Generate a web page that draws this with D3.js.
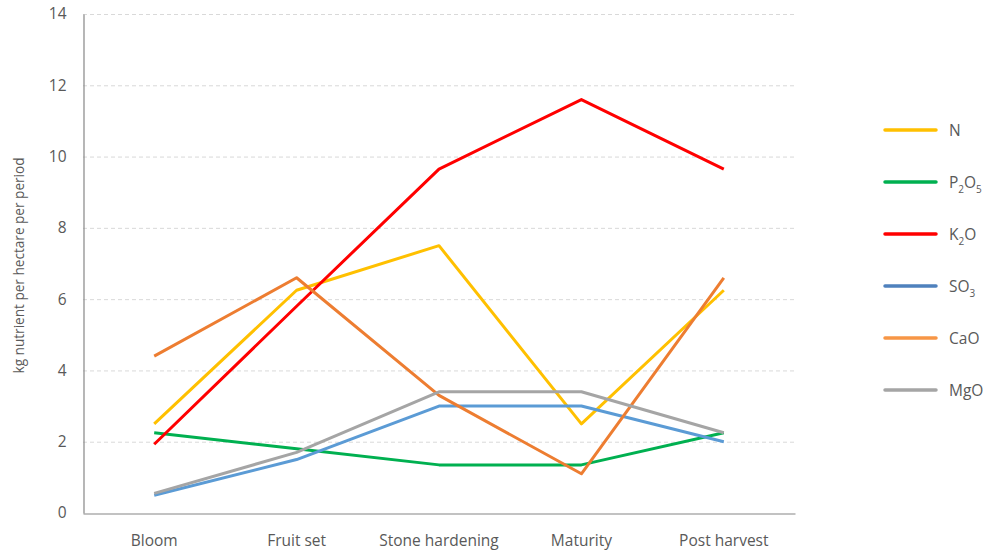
<!DOCTYPE html>
<html>
<head>
<meta charset="utf-8">
<script src="https://cdn.jsdelivr.net/npm/d3@7"></script>
<style>
  html, body { margin: 0; padding: 0; background: #fff; }
  svg { display: block; font-family: "Open Sans", "Liberation Sans", sans-serif; }
</style>
</head>
<body>
<svg id="chart" width="989" height="555"></svg>
<script>
// Growth stages along the season
const periods = ["Bloom", "Fruit set", "Stone hardening", "Maturity", "Post harvest"];

// kg nutrient per hectare per period
const nValues    = [2.5, 6.25, 7.5, 2.5, 6.25];
const p2o5Values = [2.25, 1.8, 1.35, 1.35, 2.25];
const k2oValues  = [1.93, 5.8, 9.65, 11.6, 9.65];
const so3Values  = [0.5, 1.5, 3.0, 3.0, 2.0];
const caoValues  = [4.4, 6.6, 3.3, 1.1, 6.6];
const mgoValues  = [0.55, 1.7, 3.4, 3.4, 2.25];

const yTicks = [0, 2, 4, 6, 8, 10, 12, 14];

// Legend labels as [text, subscript] pieces
const series = [
  { name: [["N", false]], values: nValues, color: "#FFC000", key: "#FFC000" },
  { name: [["P", false], ["2", true], ["O", false], ["5", true]], values: p2o5Values, color: "#00B050", key: "#00B050" },
  { name: [["K", false], ["2", true], ["O", false]], values: k2oValues, color: "#FF0000", key: "#FF0000" },
  { name: [["SO", false], ["3", true]], values: so3Values, color: "#5B9BD5", key: "#4F81BD" },
  { name: [["CaO", false]], values: caoValues, color: "#ED7D31", key: "#F79646" },
  { name: [["MgO", false]], values: mgoValues, color: "#A5A5A5", key: "#A5A5A5" }
];

const textColor = "#595959";
const labelSize = 15.5;

const svg = d3.select("#chart");
const plot = { left: 83, right: 795, top: 14, bottom: 513 };

const x = d3.scaleBand().domain(periods).range([plot.left, plot.right]);
const y = d3.scaleLinear().domain([0, 14]).range([plot.bottom, plot.top]);

// Horizontal dashed gridlines
svg.append("g")
  .selectAll("line")
  .data(yTicks.filter(t => t > 0))
  .join("line")
  .attr("x1", plot.left).attr("x2", plot.right)
  .attr("y1", d => y(d) + 0.5).attr("y2", d => y(d) + 0.5)
  .attr("stroke", "#d9d9d9")
  .attr("stroke-width", 1)
  .attr("stroke-dasharray", "4,3");

// Y axis
const yAxis = svg.append("g")
  .attr("transform", `translate(${plot.left + 0.5},0)`)
  .call(d3.axisLeft(y).tickValues(yTicks).tickSize(0).tickPadding(17));
yAxis.select(".domain").attr("stroke", "#868686").attr("stroke-width", 1.2);
yAxis.selectAll("text").attr("font-size", labelSize).attr("fill", textColor)
  .attr("font-family", "'Open Sans', sans-serif");

// X axis
const xAxis = svg.append("g")
  .attr("transform", `translate(0,${plot.bottom + 0.5})`)
  .call(d3.axisBottom(x).tickSize(0).tickPadding(21));
xAxis.select(".domain").attr("stroke", "#868686").attr("stroke-width", 1.2);
xAxis.selectAll("text").attr("font-size", labelSize).attr("fill", textColor)
  .attr("font-family", "'Open Sans', sans-serif");

// Y axis title
svg.append("text")
  .attr("transform", `translate(24,${(plot.top + plot.bottom) / 2 + 2}) rotate(-90)`)
  .attr("text-anchor", "middle")
  .attr("font-size", 13.6)
  .attr("fill", textColor)
  .text("kg nutrient per hectare per period");

// Series lines
const line = d3.line()
  .x((d, i) => x(periods[i]) + x.bandwidth() / 2)
  .y(d => y(d));

svg.append("g")
  .selectAll("path")
  .data(series)
  .join("path")
  .attr("d", d => line(d.values))
  .attr("fill", "none")
  .attr("stroke", d => d.color)
  .attr("stroke-width", 3)
  .attr("stroke-linejoin", "round");

// Legend
const legend = svg.append("g");
const legendRow = legend.selectAll("g")
  .data(series)
  .join("g")
  .attr("transform", (d, i) => `translate(885,${130 + i * 52})`);

legendRow.append("line")
  .attr("x1", 0).attr("x2", 51)
  .attr("stroke", d => d.key)
  .attr("stroke-width", 3.5)
  .attr("stroke-linecap", "round");

const legendText = legendRow.append("text")
  .attr("x", 64)
  .attr("y", 6)
  .attr("font-size", labelSize)
  .attr("fill", textColor);

legendText.each(function(d) {
  const t = d3.select(this);
  d.name.forEach(([s, sub], i) => {
    t.append("tspan")
      .attr("font-size", sub ? 10 : labelSize)
      .attr("dy", sub ? 5 : (i > 0 ? -5 : 0))
      .text(s);
  });
});
</script>
</body>
</html>
